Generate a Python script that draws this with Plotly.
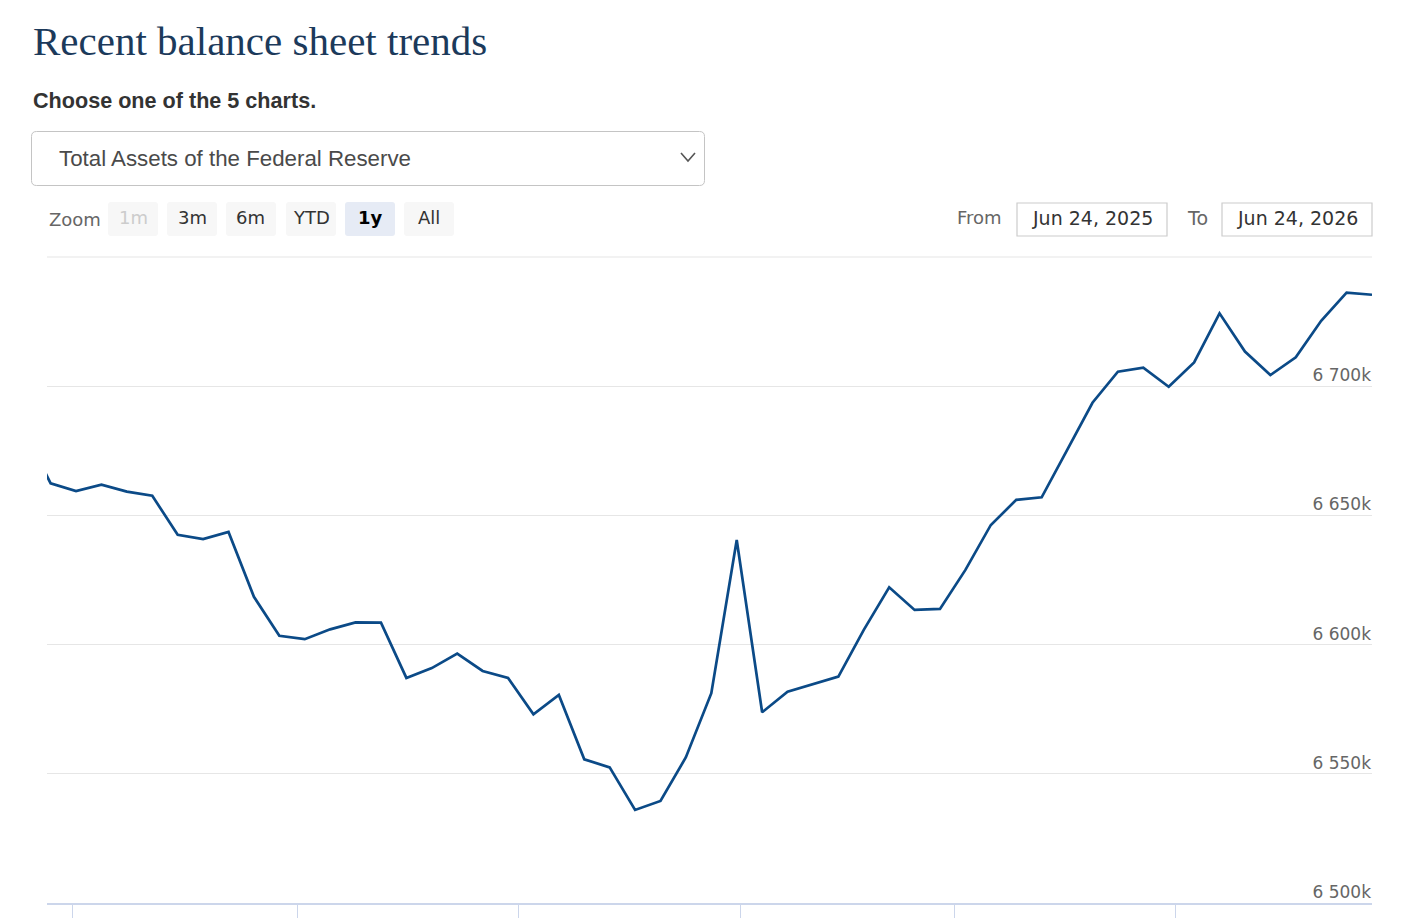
import plotly.graph_objects as go

# ---------------- data ----------------
dates = [
    "2025-06-18", "2025-06-25", "2025-07-02", "2025-07-09", "2025-07-16", "2025-07-23", "2025-07-30",
    "2025-08-06", "2025-08-13", "2025-08-20", "2025-08-27", "2025-09-03", "2025-09-10",
    "2025-09-17", "2025-09-24", "2025-10-01", "2025-10-08", "2025-10-15", "2025-10-22",
    "2025-10-29", "2025-11-05", "2025-11-12", "2025-11-19", "2025-11-26", "2025-12-03",
    "2025-12-10", "2025-12-17", "2025-12-24", "2025-12-31", "2026-01-07", "2026-01-14",
    "2026-01-21", "2026-01-28", "2026-02-04", "2026-02-11", "2026-02-18", "2026-02-25",
    "2026-03-04", "2026-03-11", "2026-03-18", "2026-03-25", "2026-04-01", "2026-04-08",
    "2026-04-15", "2026-04-22", "2026-04-29", "2026-05-06", "2026-05-13", "2026-05-20",
    "2026-05-27", "2026-06-03", "2026-06-10", "2026-06-17", "2026-06-24",
]
total_assets = [  # millions of dollars (k = thousand millions)
    6682000, 6662400, 6659400, 6661900, 6659200, 6657600, 6642500,
    6640800, 6643600, 6618500, 6603400, 6602100, 6605900,
    6608600, 6608500, 6587100, 6590900, 6596500, 6589800,
    6587100, 6573000, 6580500, 6555600, 6552500, 6536000,
    6539500, 6556400, 6581200, 6640500, 6573800, 6581800,
    6584800, 6587600, 6605700, 6622200, 6613400, 6613800,
    6628900, 6646300, 6656000, 6657000, 6675300, 6693600,
    6705600, 6707200, 6699800, 6709200, 6728200, 6713400,
    6704300, 6711200, 6725300, 6736200, 6735400,
]
y_tick_vals = [6500000, 6550000, 6600000, 6650000, 6700000]
y_tick_text = ["6 500k", "6 550k", "6 600k", "6 650k", "6 700k"]
x_tick_vals = ["2025-07-01", "2025-09-01", "2025-11-01", "2026-01-01", "2026-03-01", "2026-05-01"]
x_tick_text = ["Jul '25", "Sep '25", "Nov '25", "Jan '26", "Mar '26", "May '26"]
range_from = "2025-06-24"
range_to = "2026-06-24"
zoom_buttons = ["1m", "3m", "6m", "YTD", "1y", "All"]
from_label = "Jun 24, 2025"
to_label = "Jun 24, 2026"

# ---------------- layout helpers ----------------
# the page body adds an 8px margin; figure is sized so the view matches 1402x920
OFF = 8
W, H = 1402 - OFF, 920 - OFF
L, R, T, B = 47 - OFF, W - (1372 - OFF), 257 - OFF, H - (903 - OFF)
PW, PH = W - L - R, H - T - B


def px(x):  # screen pixel x -> paper
    return (x - OFF - L) / PW


def py(y):  # screen pixel y -> paper
    return (H - B - (y - OFF)) / PH


def rounded_rect(x0, y0, x1, y1, r):
    X0, X1 = px(x0), px(x1)
    Y0, Y1 = py(y0), py(y1)
    rx, ry = r / PW, r / PH
    return (f"M {X0+rx},{Y0} L {X1-rx},{Y0} Q {X1},{Y0} {X1},{Y0-ry} "
            f"L {X1},{Y1+ry} Q {X1},{Y1} {X1-rx},{Y1} L {X0+rx},{Y1} "
            f"Q {X0},{Y1} {X0},{Y1+ry} L {X0},{Y0-ry} Q {X0},{Y0} {X0+rx},{Y0} Z")


fig = go.Figure()
fig.add_trace(go.Scatter(
    x=dates, y=total_assets, mode="lines",
    line=dict(color="#0b4a87", width=2.7),
    hovertemplate="%{x|%b %d, %Y}<br>%{y:,.0f}<extra></extra>",
    showlegend=False,
))

shapes = []
annotations = []

# top line of the plot (6 750k grid line)
shapes.append(dict(type="line", xref="paper", yref="paper", x0=0, x1=1, y0=1, y1=1,
                   line=dict(color="#e6e6e6", width=1.2), layer="below"))

# title
annotations.append(dict(text="Recent balance sheet trends", xref="paper", yref="paper",
                        x=px(31), y=py(41), xanchor="left", yanchor="middle", showarrow=False,
                        font=dict(family="Liberation Serif", size=41, color="#1c3a5b")))
annotations.append(dict(text="<b>Choose one of the 5 charts.</b>", xref="paper", yref="paper",
                        x=px(31), y=py(100), xanchor="left", yanchor="middle", showarrow=False,
                        font=dict(family="Liberation Sans", size=21.6, color="#333333")))

# dropdown
shapes.append(dict(type="path", xref="paper", yref="paper",
                   path=rounded_rect(31.5, 131.5, 704.5, 185.5, 5),
                   line=dict(color="#c4c4c4", width=1), fillcolor="white"))
annotations.append(dict(text="Total Assets of the Federal Reserve", xref="paper", yref="paper",
                        x=px(57), y=py(158), xanchor="left", yanchor="middle", showarrow=False,
                        font=dict(family="Liberation Sans", size=22.3, color="#4a4a4a")))
shapes.append(dict(type="path", xref="paper", yref="paper",
                   path=f"M {px(681)},{py(153)} L {px(688)},{py(161)} L {px(695)},{py(153)}",
                   line=dict(color="#555555", width=1.6)))

# zoom buttons
annotations.append(dict(text="Zoom", xref="paper", yref="paper", x=px(47), y=py(219),
                        xanchor="left", yanchor="middle", showarrow=False,
                        font=dict(family="DejaVu Sans", size=18, color="#666666")))
btn_x = [108, 167, 226, 286, 345, 404]
btn_w = 50
for lab, bx in zip(zoom_buttons, btn_x):
    if lab == "1y":
        fill, col, txt = "#e6ebf5", "#000000", f"<b>{lab}</b>"
    elif lab == "1m":
        fill, col, txt = "#f7f7f7", "#cccccc", lab
    else:
        fill, col, txt = "#f7f7f7", "#333333", lab
    shapes.append(dict(type="path", xref="paper", yref="paper",
                       path=rounded_rect(bx, 202, bx + btn_w, 236, 3),
                       line=dict(width=0), fillcolor=fill))
    annotations.append(dict(text=txt, xref="paper", yref="paper", x=px(bx + btn_w / 2), y=py(218),
                            xanchor="center", yanchor="middle", showarrow=False,
                            font=dict(family="DejaVu Sans", size=18, color=col)))

# date range inputs
annotations.append(dict(text="From", xref="paper", yref="paper", x=px(1004), y=py(218),
                        xanchor="right", yanchor="middle", showarrow=False,
                        font=dict(family="DejaVu Sans", size=18, color="#666666")))
annotations.append(dict(text="To", xref="paper", yref="paper", x=px(1210), y=py(218),
                        xanchor="right", yanchor="middle", showarrow=False,
                        font=dict(family="DejaVu Sans", size=19, color="#666666")))
for (bx0, bx1), lab in [((1017, 1167), from_label), ((1222, 1372), to_label)]:
    shapes.append(dict(type="rect", xref="paper", yref="paper",
                       x0=px(bx0), x1=px(bx1), y0=py(236), y1=py(203),
                       line=dict(color="#cccccc", width=1.2), fillcolor="white"))
    annotations.append(dict(text=lab, xref="paper", yref="paper", x=px((bx0 + bx1) / 2), y=py(218),
                            xanchor="center", yanchor="middle", showarrow=False,
                            font=dict(family="DejaVu Sans", size=19, color="#333333")))

fig.update_layout(
    width=W, height=H,
    margin=dict(l=L, r=R, t=T, b=B, pad=0),
    paper_bgcolor="white", plot_bgcolor="white",
    shapes=shapes, annotations=annotations,
    xaxis=dict(
        type="date", range=[range_from, range_to], automargin=False,
        showgrid=False, zeroline=False,
        showline=True, linecolor="#ccd6eb", linewidth=1.5,
        tickmode="array", tickvals=x_tick_vals, ticktext=x_tick_text,
        ticks="outside", ticklen=13, tickcolor="#ccd6eb", tickwidth=1,
        tickfont=dict(family="DejaVu Sans", size=16, color="#666666"),
    ),
    yaxis=dict(
        range=[6500000, 6750000], side="right", automargin=False,
        showgrid=True, gridcolor="#e6e6e6", gridwidth=1.2, zeroline=False,
        showline=False, ticks="",
        tickmode="array", tickvals=y_tick_vals, ticktext=y_tick_text,
        ticklabelposition="inside top", ticklabelshift=1, ticklabelstandoff=-2,
        tickfont=dict(family="DejaVu Sans", size=17, color="#666666"),
    ),
)

fig.write_html("out.html")
